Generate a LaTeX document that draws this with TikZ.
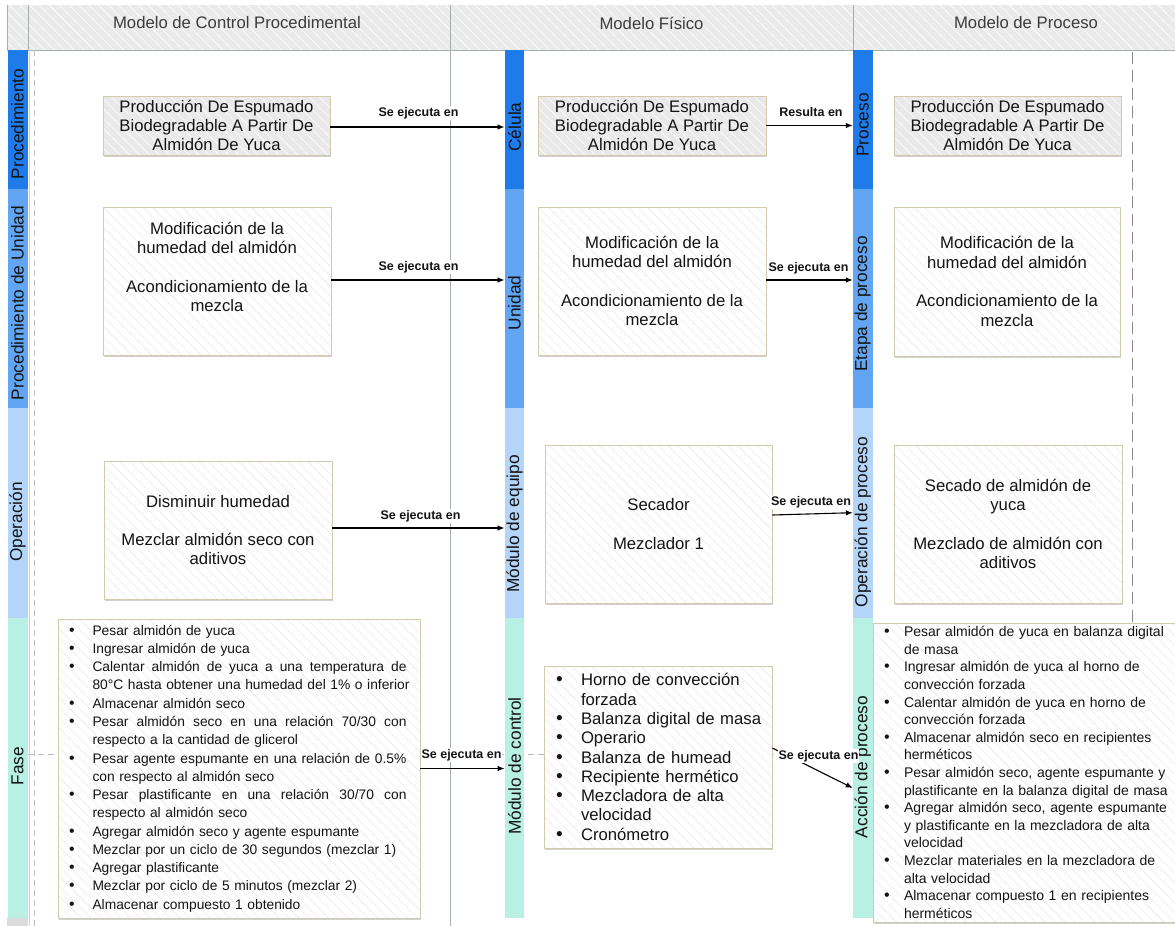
\documentclass[tikz,border=0pt]{standalone}
\usepackage{fontspec}
\usepackage{graphicx}
\setmainfont{Liberation Sans}
\usetikzlibrary{arrows.meta,patterns.meta,shadows}
\definecolor{cdark}{HTML}{1F7BEA}
\definecolor{cmid}{HTML}{62A6F3}
\definecolor{clight}{HTML}{B3D5F9}
\definecolor{ccyan}{HTML}{B8F1E3}
\definecolor{chead}{HTML}{EAEAEA}
\definecolor{cgrid}{HTML}{A3B3AC}
\definecolor{cbord}{HTML}{D2CAAC}
\definecolor{chatch}{HTML}{EBEBEB}
\definecolor{cgraybox}{HTML}{E9E9E9}
\definecolor{ctxt}{HTML}{141414}
\definecolor{chtxt}{HTML}{3C3C3C}
\newcommand{\bl}[1]{\makebox[#1][l]{\scalebox{1.15}{•}}}
\newcommand{\jl}[1]{\hbox to 314pt{#1}}
\begin{document}
\begin{tikzpicture}[x=1pt,y=-1pt,
  boxbase/.style={rectangle, draw=cbord, line width=0.9pt, inner sep=0pt, align=center, text=ctxt,
    drop shadow={shadow xshift=1.2pt, shadow yshift=-1.6pt, fill=black, opacity=0.18},
    font=\fontsize{16.7}{19.3}\selectfont},
  whitebox/.style={boxbase, preaction={fill=white}, pattern={Lines[angle=-45,distance=7pt,line width=0.6pt]}, pattern color=chatch},
  graybox/.style={boxbase, preaction={fill=cgraybox}, pattern={Lines[angle=-45,distance=7pt,line width=0.6pt]}, pattern color=white},
  bar/.style={rectangle, inner sep=0pt, draw=none, minimum width=19.5pt},
  barlabel/.style={rotate=90, inner sep=0pt, text=ctxt, font=\fontsize{17.3}{19}\selectfont},
  headtext/.style={inner sep=0pt, text=chtxt, font=\fontsize{16.7}{19}\selectfont},
  arr/.style={-{Latex[length=7pt,width=5.5pt]}, line width=1.1pt, draw=black},
  lbl/.style={fill=white, inner sep=1pt, text=ctxt, font=\bfseries\fontsize{12.5}{14}\selectfont},
  gridline/.style={draw=cgrid, line width=1pt},
  dashline/.style={draw=black!25, line width=0.8pt, dash pattern=on 6pt off 4pt},
  dashdark/.style={draw=black!45, line width=0.9pt, dash pattern=on 12pt off 6pt}
]
\useasboundingbox (0,0) rectangle (1175,926);
\fill[white] (0,0) rectangle (1175,926);

% header
\path[preaction={fill=chead}, pattern={Lines[angle=-45,distance=7pt,line width=0.6pt]}, pattern color=white] (7,5) rectangle (1180,50);
\draw[gridline] (7,5) -- (7,50);
\draw[gridline] (28,5) -- (28,50);
\draw[gridline] (450,5) -- (450,926);
\draw[gridline] (853,5) -- (853,50);
\draw[gridline] (7,50) -- (1180,50);
\node[headtext] (h1) at (237,23) {Modelo de Control Procedimental};
\node[headtext] (h2) at (651.5,23) {Modelo Físico};
\node[headtext] (h3) at (1026,23) {Modelo de Proceso};

% guide lines
\draw[draw=black!18, line width=0.8pt] (29,50) -- (29,926);
\draw[dashline] (34,50) -- (34,926);
\draw[dashdark] (1132,52) -- (1132,630);
\draw[dashline] (28,754) -- (873,754);
\fill[black!14] (7,918) rectangle (27.5,926);

% left bars
\node[bar, fill=cdark, minimum width=20pt, minimum height=139pt] (bP) at (17.5,119.5) {};
\node[bar, fill=cmid, minimum width=20pt, minimum height=219pt] (bPU) at (17.5,298.5) {};
\node[bar, fill=clight, minimum width=20pt, minimum height=210pt] (bO) at (17.5,513) {};
\node[bar, fill=ccyan, minimum width=20pt, minimum height=300pt] (bF) at (17.5,768) {};
\node[barlabel] (lP) at (17.5,124) {Procedimiento};
\node[barlabel] (lPU) at (17.5,303) {Procedimiento de Unidad};
\node[barlabel] (lO) at (17.5,522) {Operación};
\node[barlabel] (lF) at (17.5,766) {Fase};

% middle bars
\node[bar, fill=cdark, minimum height=139pt] (bC) at (514.5,119.5) {};
\node[bar, fill=cmid, minimum height=219pt] (bU) at (514.5,298.5) {};
\node[bar, fill=clight, minimum height=210pt] (bME) at (514.5,513) {};
\node[bar, fill=ccyan, minimum height=300pt] (bMC) at (514.5,768) {};
\node[barlabel] (lC) at (514.5,127) {Célula};
\node[barlabel] (lU) at (514.5,303) {Unidad};
\node[barlabel] (lME) at (514.5,524) {Módulo de equipo};
\node[barlabel] (lMC) at (514.5,766) {Módulo de control};

% right bars
\node[bar, fill=cdark, minimum height=141pt] (bPr) at (862.75,120.5) {};
\node[bar, fill=cmid, minimum height=219pt] (bE) at (862.75,298.5) {};
\node[bar, fill=clight, minimum height=210pt] (bOP) at (862.75,513) {};
\node[bar, fill=ccyan, minimum height=300pt] (bAP) at (862.75,768) {};
\node[barlabel] (lPr) at (862.75,125) {Proceso};
\node[barlabel] (lE) at (862.75,304) {Etapa de proceso};
\node[barlabel] (lOP) at (862.75,522) {Operación de proceso};
\node[barlabel] (lAP) at (862.75,767) {Acción de proceso};

% row 1
\node[graybox, minimum width=227pt, minimum height=59pt] (a1) at (216.5,125.5) {Producción De Espumado\\Biodegradable A Partir De\\Almidón De Yuca};
\node[graybox, minimum width=228pt, minimum height=59pt] (b1) at (652,125.5) {Producción De Espumado\\Biodegradable A Partir De\\Almidón De Yuca};
\node[graybox, minimum width=227pt, minimum height=59pt] (c1) at (1007.5,125.5) {Producción De Espumado\\Biodegradable A Partir De\\Almidón De Yuca};

% row 2
\node[whitebox, minimum width=228pt, minimum height=148pt] (a2) at (217,281) {Modificación de la\\humedad del almidón\\[19.3pt]Acondicionamiento de la\\mezcla\\[9pt]\mbox{}};
\node[whitebox, minimum width=228pt, minimum height=148pt] (b2) at (652,281) {Modificación de la\\humedad del almidón\\[19.3pt]Acondicionamiento de la\\mezcla};
\node[whitebox, minimum width=226pt, minimum height=149pt] (c2) at (1007,281.5) {Modificación de la\\humedad del almidón\\[19.3pt]Acondicionamiento de la\\mezcla};

% row 3
\node[whitebox, minimum width=228pt, minimum height=138pt] (a3) at (218,530) {Disminuir humedad\\[19.3pt]Mezclar almidón seco con\\aditivos};
\node[whitebox, minimum width=227pt, minimum height=158pt] (b3) at (658.5,524) {Secador\\[19.3pt]Mezclador 1};
\node[whitebox, minimum width=228pt, minimum height=158pt] (c3) at (1008,524) {Secado de almidón de\\yuca\\[19.3pt]Mezclado de almidón con\\aditivos};

% row 4
\node[whitebox, minimum width=362pt, minimum height=299pt, text width=340pt, inner xsep=11pt, align=left,
      font=\fontsize{13.8}{18.27}\selectfont] (a4) at (239,768.5) {%
\bl{23.5pt}Pesar almidón de yuca\\
\bl{23.5pt}Ingresar almidón de yuca\\
\bl{23.5pt}\jl{Calentar \hfill almidón \hfill de \hfill yuca \hfill a \hfill una \hfill temperatura \hfill de}\\
\hspace*{23.5pt}\makebox[314pt][l]{80°C hasta obtener una humedad del 1\% o inferior}\\
\bl{23.5pt}Almacenar almidón seco\\
\bl{23.5pt}\jl{Pesar \hfill almidón \hfill seco \hfill en \hfill una \hfill relación \hfill 70/30 \hfill con}\\
\hspace*{23.5pt}respecto a la cantidad de glicerol\\
\bl{23.5pt}\jl{Pesar \hfill agente \hfill espumante \hfill en \hfill una \hfill relación \hfill de \hfill 0.5\%}\\
\hspace*{23.5pt}con respecto al almidón seco\\
\bl{23.5pt}\jl{Pesar \hfill plastificante \hfill en \hfill una \hfill relación \hfill 30/70 \hfill con}\\
\hspace*{23.5pt}respecto al almidón seco\\
\bl{23.5pt}Agregar almidón seco y agente espumante\\
\bl{23.5pt}Mezclar por un ciclo de 30 segundos (mezclar 1)\\
\bl{23.5pt}Agregar plastificante\\
\bl{23.5pt}Mezclar por ciclo de 5 minutos (mezclar 2)\\
\bl{23.5pt}Almacenar compuesto 1 obtenido};

\node[whitebox, minimum width=228pt, minimum height=182pt, text width=218pt, inner xsep=5pt, align=left] (b4) at (658,757) {%
\hspace*{7pt}\bl{25pt}Horno de convección\\
\hspace*{32pt}forzada\\
\hspace*{7pt}\bl{25pt}Balanza digital de masa\\
\hspace*{7pt}\bl{25pt}Operario\\
\hspace*{7pt}\bl{25pt}Balanza de humead\\
\hspace*{7pt}\bl{25pt}Recipiente hermético\\
\hspace*{7pt}\bl{25pt}Mezcladora de alta\\
\hspace*{32pt}velocidad\\
\hspace*{7pt}\bl{25pt}Cronómetro};

\node[whitebox, minimum width=312pt, minimum height=299pt, text width=290pt, inner xsep=11pt, align=left,
      font=\fontsize{14}{17.6}\selectfont] (c4) at (1029,772.5) {%
\bl{20pt}Pesar almidón de yuca en balanza digital\\
\hspace*{20pt}de masa\\
\bl{20pt}Ingresar almidón de yuca al horno de\\
\hspace*{20pt}convección forzada\\
\bl{20pt}Calentar almidón de yuca en horno de\\
\hspace*{20pt}convección forzada\\
\bl{20pt}Almacenar almidón seco en recipientes\\
\hspace*{20pt}herméticos\\
\bl{20pt}Pesar almidón seco, agente espumante y\\
\hspace*{20pt}plastificante en la balanza digital de masa\\
\bl{20pt}Agregar almidón seco, agente espumante\\
\hspace*{20pt}y plastificante en la mezcladora de alta\\
\hspace*{20pt}velocidad\\
\bl{20pt}Mezclar materiales en la mezcladora de\\
\hspace*{20pt}alta velocidad\\
\bl{20pt}Almacenar compuesto 1 en recipientes\\
\hspace*{20pt}herméticos};

% connectors
\draw[arr] ([yshift=-1.5pt]a1.east) -- ([yshift=-1.5pt]a1.east -| bC.west);
\draw[arr] (b1.east) -- (b1.east -| bPr.west);
\draw[arr] ([yshift=1pt]a2.east) -- ([yshift=1pt]a2.east -| bU.west);
\draw[arr] ([yshift=1pt]b2.east) -- ([yshift=1pt]b2.east -| bE.west);
\draw[arr] ([yshift=2pt]a3.east) -- ([yshift=2pt]a3.east -| bME.west);
\draw[arr] ([yshift=9pt]b3.east) -- ([yshift=0.3pt]bOP.west);
\draw[arr] (a4.east) -- (a4.east -| bMC.west);
\draw[arr] ([yshift=9pt]b4.east) -- ([yshift=-20pt]bAP.west);

% connector labels
\node[lbl] (t1) at (418.5,113) {Se ejecuta en};
\node[lbl] (t2) at (811,112) {Resulta en};
\node[lbl] (t3) at (418.5,267) {Se ejecuta en};
\node[lbl] (t4) at (808.5,268) {Se ejecuta en};
\node[lbl] (t5) at (420.5,516) {Se ejecuta en};
\node[lbl] (t6) at (811,502) {Se ejecuta en};
\node[lbl] (t7) at (461.5,755) {Se ejecuta en};
\node[lbl] (t8) at (818.5,756) {Se ejecuta en};
\end{tikzpicture}
\end{document}
